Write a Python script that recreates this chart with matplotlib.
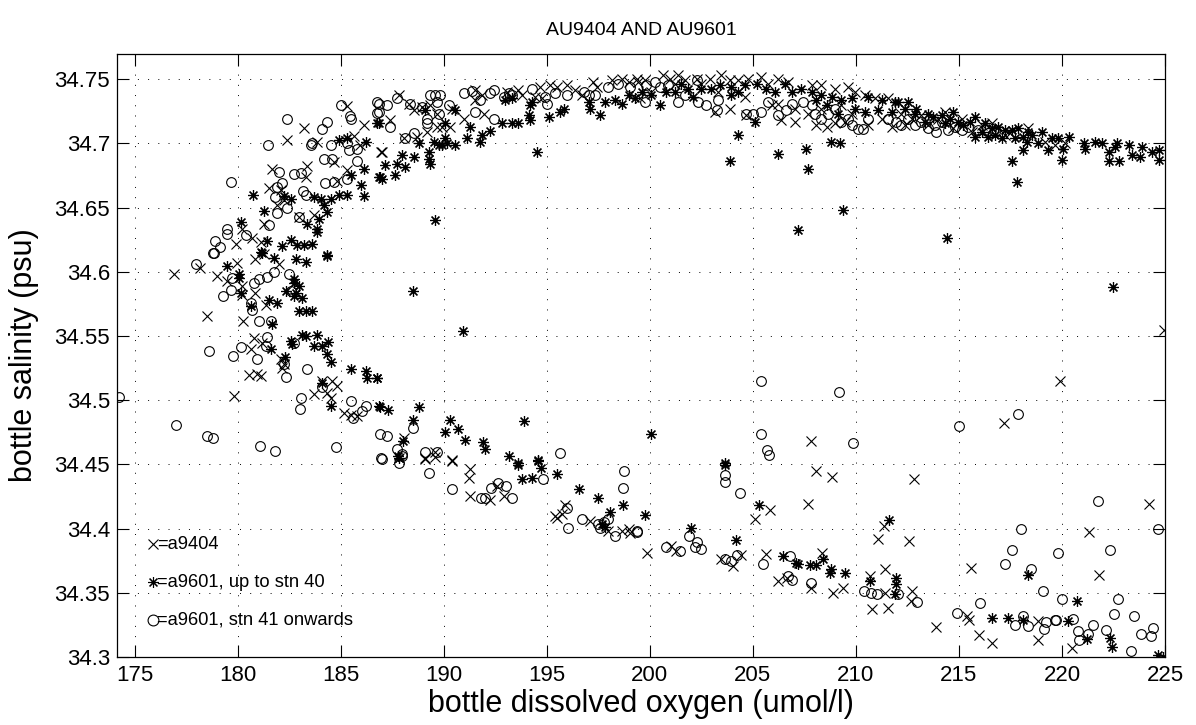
import matplotlib
matplotlib.use("Agg")
import matplotlib.pyplot as plt
from matplotlib.ticker import FixedLocator

plt.rcParams['font.family'] = ['Liberation Sans', 'DejaVu Sans']

# ---------------- data (oxygen umol/l, salinity psu) ----------------
a9404_ox = [185.29, 183.22, 186.13, 185.65, 182.41, 183.87, 185.94, 186.94, 184.68, 185.33,
            183.38, 183.30, 181.68, 184.84, 181.52, 182.09, 182.25, 181.93, 182.98, 183.71,
            181.28, 180.23, 180.71, 181.12, 179.90,
            187.42, 187.82, 188.30, 188.55, 188.95, 189.35, 189.68, 189.19, 189.68, 189.92,
            190.32, 190.40, 191.53, 191.86, 191.53, 191.94, 190.97, 193.63, 193.07, 193.80,
            194.68, 194.44, 194.77, 195.17, 195.49, 195.98, 196.38, 196.70, 197.27, 197.43,
            198.16, 198.64, 198.97, 199.37, 187.01, 188.06, 188.71,
            199.43, 199.76, 200.65, 200.97, 201.38, 201.70, 202.27, 202.91, 203.48, 203.88,
            204.29, 204.77, 205.42, 205.74, 206.23, 206.72, 207.85, 208.33, 208.98, 209.63,
            209.95, 210.44, 210.92, 211.57,
            203.16, 203.88, 204.69, 206.23, 206.39, 207.04, 208.09, 208.58, 208.98, 209.47,
            210.60, 211.73, 199.51,
            200.08, 201.21, 202.51, 203.32, 204.61, 205.91, 207.04, 207.69, 208.33, 209.30,
            209.79, 211.25,
            212.21, 212.70, 213.18, 213.99, 215.13, 216.10, 217.24, 218.37, 219.18, 219.67, 220.15,
            212.37, 213.51, 214.32, 214.72, 215.62, 216.59, 217.48,
            178.20, 176.91, 179.98, 179.01, 179.50, 180.23, 180.23, 180.87, 180.87, 181.28,
            182.00, 181.36, 178.50, 180.27, 180.79, 181.20, 180.63, 182.09, 180.55, 180.95,
            181.12, 182.17, 182.25, 179.82, 184.11, 184.60, 183.71, 184.32, 184.84, 184.51,
            185.16, 185.49, 185.81,
            188.06, 187.82, 189.11, 190.40, 189.60,
            207.82, 224.95, 219.91, 217.20,
            189.11, 189.60, 190.40, 191.29, 191.24, 191.29, 192.23, 192.91, 192.58, 195.90,
            195.49, 195.74, 195.41, 197.11, 197.99, 198.64, 198.97, 199.05,
            199.89, 201.05, 201.29, 203.48, 204.05, 204.45, 205.83, 205.10, 208.09, 208.82,
            207.69, 205.62, 206.23, 206.64, 208.38, 207.82, 208.90, 209.39, 211.08, 211.38,
            211.41, 210.68, 210.79, 211.57, 211.41,
            212.81, 212.59, 212.70, 212.67, 213.88, 215.37, 215.49, 215.58, 215.97, 216.62,
            218.82, 218.82, 220.51, 221.29, 221.82, 224.24]
a9404_sal = [34.729, 34.7116, 34.714, 34.706, 34.703, 34.701, 34.6986, 34.693, 34.6856, 34.679,
             34.6825, 34.674, 34.680, 34.671, 34.665, 34.6635, 34.6557, 34.6518, 34.643, 34.644,
             34.6375, 34.6335, 34.626, 34.623, 34.622,
             34.718, 34.7375, 34.731, 34.726, 34.7285, 34.730, 34.723, 34.709, 34.713, 34.713,
             34.713, 34.727, 34.7415, 34.7375, 34.7335, 34.723, 34.7193, 34.7414, 34.740, 34.7375,
             34.744, 34.736, 34.735, 34.7453, 34.744, 34.7453, 34.7414, 34.7375, 34.748, 34.744,
             34.749, 34.750, 34.748, 34.750, 34.6934, 34.7038, 34.705,
             34.748, 34.749, 34.753, 34.7505, 34.753, 34.749, 34.7505, 34.7505, 34.753, 34.749,
             34.749, 34.7505, 34.7518, 34.7466, 34.7505, 34.748, 34.7453, 34.7453, 34.7427, 34.744,
             34.740, 34.7375, 34.735, 34.735,
             34.7245, 34.7271, 34.722, 34.731, 34.718, 34.7167, 34.7141, 34.7129, 34.7155, 34.7167,
             34.7141, 34.7129, 34.735,
             34.7401, 34.7466, 34.7466, 34.7401, 34.7362, 34.7297, 34.7271, 34.7232, 34.7271, 34.7297,
             34.7232, 34.7193,
             34.7232, 34.7193, 34.722, 34.7193, 34.7193, 34.7141, 34.7064, 34.7116, 34.7012, 34.6986, 34.700,
             34.7141, 34.7141, 34.7245, 34.7116, 34.709, 34.7155, 34.7077,
             34.603, 34.598, 34.6065, 34.597, 34.5927, 34.5888, 34.5823, 34.5836, 34.6096, 34.6135,
             34.6057, 34.5745, 34.5654, 34.5615, 34.5486, 34.5446, 34.5395, 34.5317, 34.520, 34.5205,
             34.5192, 34.5252, 34.528, 34.5031, 34.5148, 34.5148, 34.505, 34.5055, 34.5109, 34.5018,
             34.4901, 34.4888, 34.4875,
             34.4706, 34.455, 34.455, 34.4537, 34.4595,
             34.4686, 34.555, 34.5153, 34.4823,
             34.4539, 34.456, 34.4526, 34.4461, 34.4396, 34.4253, 34.422, 34.4253, 34.4331, 34.4184,
             34.4084, 34.411, 34.4097, 34.4058, 34.3981, 34.3981, 34.3994, 34.3968,
             34.3812, 34.3864, 34.3825, 34.376, 34.3708, 34.3791, 34.4144, 34.4071, 34.4448, 34.4404,
             34.4193, 34.3799, 34.3591, 34.3617, 34.3812, 34.3539, 34.350, 34.3539, 34.3921, 34.402,
             34.3682, 34.363, 34.3375, 34.3383, 34.350,
             34.4388, 34.3903, 34.3513, 34.3435, 34.3232, 34.3323, 34.3292, 34.3695, 34.3175, 34.311,
             34.3284, 34.3136, 34.3071, 34.3973, 34.3638, 34.4193]

a9601a_ox = [186.78, 184.92, 185.33, 186.21, 186.13, 186.86, 185.49, 180.76, 182.25, 182.57,
             183.71, 184.03, 184.51, 184.92, 185.32, 186.00, 186.13, 184.19, 184.35, 183.95,
             183.87, 183.83, 183.38, 183.22, 183.63, 182.90, 182.17, 182.57, 181.28, 181.12,
             180.15, 181.44, 184.35,
             186.85, 189.11, 190.08, 190.57, 191.29, 192.99, 193.31, 194.20, 194.28, 197.03,
             197.11, 197.59, 197.84, 198.32, 198.64, 198.97, 199.29, 195.09, 195.65, 195.82,
             194.20, 194.12, 193.63, 193.31, 192.83, 192.26, 191.86, 191.78, 191.13, 190.57,
             190.16, 189.92, 189.76, 189.52, 189.27, 189.27, 189.35, 188.55, 188.14, 187.98,
             187.74, 187.17, 186.93, 187.01, 187.66, 188.79, 190.08, 189.60, 194.52,
             200.49, 203.96, 203.96, 205.10, 204.29, 203.88, 206.20, 207.60, 207.69, 208.79,
             209.22, 209.39, 207.20, 205.18, 206.55, 207.36, 207.85, 208.33, 208.82, 209.30,
             209.79, 210.60, 211.25, 211.89, 202.51, 201.21, 201.86,
             199.60, 200.08, 200.81, 201.54, 202.10, 202.99, 203.40, 204.29, 204.61, 205.66,
             206.07, 206.88, 208.09, 208.58, 209.14, 209.95, 210.44, 211.08, 211.73,
             212.05, 212.54, 212.94, 213.51, 213.75, 214.16, 214.56, 214.97, 215.78, 216.26,
             215.78, 216.43, 216.91, 217.07, 217.56, 217.88, 218.37, 218.13, 218.13, 217.59,
             217.80, 219.02, 219.51, 219.83, 220.32, 220.07, 219.99, 221.05, 221.13, 221.61,
             221.94, 222.26, 222.58, 222.67, 223.23, 223.40, 223.80, 223.88, 224.37, 224.69,
             224.69, 214.40, 222.26, 222.75, 219.34, 218.86,
             212.37, 212.86, 213.35, 214.32, 214.72, 215.21, 215.53, 216.10, 216.59, 216.75,
             217.24, 217.72, 218.29, 218.53,
             179.50, 180.06, 180.06, 180.15, 181.20, 181.76, 182.82, 183.30, 184.35, 182.73,
             182.73, 182.98, 182.33, 182.73, 183.14, 182.82, 180.63, 181.52, 181.93, 182.98,
             183.30, 183.62, 181.68, 181.60, 182.57, 182.65, 183.14, 183.30, 183.87, 183.71,
             184.11, 184.38, 184.35, 184.51, 182.30, 185.49, 186.21, 186.26, 186.75, 184.11,
             184.55, 186.86,
             188.51, 190.92, 186.77, 186.93, 187.30, 188.82, 188.51, 190.32, 190.08, 190.69,
             191.02, 191.89, 192.02, 193.18, 193.63, 194.60, 193.91, 188.01, 187.79,
             200.08, 203.64, 222.50,
             187.82, 193.63, 193.80, 194.28, 194.60, 194.72, 195.49, 196.58, 197.51, 198.08,
             198.68, 197.67, 197.84,
             203.67, 199.79, 201.99, 204.19, 205.29, 206.47, 207.12, 207.20, 207.77, 208.09,
             208.41, 208.74, 208.79, 209.47, 211.60, 210.68, 211.97, 211.97, 211.89,
             216.59, 217.40, 218.13, 218.34, 220.28, 220.72, 221.21, 222.34, 222.42, 224.64, 224.90]
a9601a_sal = [34.7155, 34.7025, 34.704, 34.701, 34.680, 34.674, 34.675, 34.660, 34.659, 34.657,
              34.658, 34.657, 34.657, 34.6596, 34.6596, 34.6674, 34.659, 34.652, 34.6466, 34.6414,
              34.6336, 34.631, 34.6375, 34.6212, 34.6217, 34.6206, 34.620, 34.6245, 34.647, 34.6154,
              34.639, 34.6238, 34.613,
              34.7155, 34.726, 34.7155, 34.726, 34.713, 34.7336, 34.735, 34.7297, 34.7323, 34.732,
              34.727, 34.722, 34.732, 34.7336, 34.731, 34.7375, 34.735, 34.7206, 34.7245, 34.727,
              34.718, 34.722, 34.7155, 34.7155, 34.7155, 34.710, 34.7064, 34.701, 34.7038, 34.6986,
              34.700, 34.6986, 34.6986, 34.701, 34.6934, 34.688, 34.6843, 34.6895, 34.6817, 34.6908,
              34.684, 34.683, 34.674, 34.6726, 34.675, 34.700, 34.7038, 34.640, 34.693,
              34.7297, 34.7375, 34.744, 34.7167, 34.7064, 34.6864, 34.692, 34.696, 34.680, 34.7012,
              34.700, 34.648, 34.6323, 34.7466, 34.7466, 34.7427, 34.740, 34.7375, 34.7362, 34.7336,
              34.735, 34.7362, 34.7336, 34.7323, 34.7427, 34.740, 34.7427,
              34.7401, 34.7375, 34.7401, 34.7466, 34.7362, 34.7427, 34.7453, 34.7401, 34.7453, 34.7427,
              34.7401, 34.7401, 34.7336, 34.7297, 34.7232, 34.7271, 34.7245, 34.7258, 34.7245,
              34.7323, 34.7323, 34.7271, 34.7232, 34.7206, 34.722, 34.7193, 34.7167, 34.7206, 34.7155,
              34.7051, 34.7051, 34.7129, 34.7038, 34.7103, 34.7116, 34.709, 34.7051, 34.6947, 34.6861,
              34.670, 34.709, 34.7038, 34.7038, 34.7051, 34.696, 34.6869, 34.6999, 34.696, 34.7012,
              34.700, 34.6934, 34.6973, 34.700, 34.6986, 34.6908, 34.6895, 34.6973, 34.6934, 34.6947,
              34.6869, 34.6264, 34.6861, 34.6861, 34.6947, 34.700,
              34.7271, 34.7232, 34.7167, 34.7155, 34.7245, 34.7141, 34.7167, 34.709, 34.7116, 34.7064,
              34.7103, 34.7038, 34.7012, 34.7064,
              34.6044, 34.598, 34.5953, 34.5836, 34.6148, 34.6109, 34.6096, 34.6075, 34.612, 34.594,
              34.5914, 34.5888, 34.585, 34.581, 34.5797, 34.5836, 34.5732, 34.5784, 34.5758, 34.5693,
              34.5693, 34.5693, 34.559, 34.540, 34.546, 34.5434, 34.5504, 34.550, 34.5504, 34.542,
              34.542, 34.545, 34.5356, 34.530, 34.5338, 34.524, 34.5226, 34.5174, 34.5174, 34.5135,
              34.4958, 34.4953,
              34.585, 34.5538, 34.5174, 34.4948, 34.4927, 34.4948, 34.4849, 34.4844, 34.475, 34.4777,
              34.4688, 34.4673, 34.4616, 34.4564, 34.4512, 34.4538, 34.4836, 34.468, 34.4564,
              34.474, 34.4512, 34.5883,
              34.4552, 34.4492, 34.4383, 34.4396, 34.4526, 34.4474, 34.4422, 34.431, 34.4235, 34.4128,
              34.4183, 34.4032, 34.4014,
              34.4492, 34.4103, 34.4006, 34.3908, 34.418, 34.3786, 34.3734, 34.3721, 34.3713, 34.3713,
              34.3765, 34.3656, 34.3682, 34.3656, 34.4066, 34.3591, 34.3617, 34.3565, 34.3487,
              34.330, 34.330, 34.3292, 34.3635, 34.3279, 34.3435, 34.3142, 34.315, 34.3077, 34.3014, 34.300]

a9601b_ox = [185.00, 186.78, 186.78, 182.41, 184.32, 184.11, 185.44, 185.49, 181.47, 183.54,
             183.62, 184.51, 185.33, 185.40, 185.81, 184.19, 184.60, 185.78, 183.06, 182.73,
             182.01, 179.69, 184.22, 184.68, 185.29, 182.17, 181.93, 181.80, 182.41, 183.17,
             183.32, 182.98, 181.93, 181.52, 179.50, 179.50, 180.39, 178.90, 179.17, 178.85,
             186.85, 186.85, 187.25, 187.42, 187.74, 188.38, 188.95, 189.35, 189.60, 189.84,
             189.68, 189.76, 189.19, 189.19, 190.24, 190.97, 191.37, 191.78, 191.53, 192.42,
             192.26, 192.42, 193.15, 193.31, 192.91, 194.28, 194.93, 195.00, 195.41, 195.98,
             196.79, 197.03, 197.35, 197.99, 198.48, 199.05, 188.14, 188.55,
             199.84, 199.76, 200.24, 200.49, 200.89, 201.38, 202.27, 202.35, 202.75, 203.24,
             204.69, 205.02, 205.42, 206.23, 206.63, 207.44, 207.85, 208.98, 209.30, 210.11,
             210.36, 208.33, 209.63,
             201.70, 203.32, 205.74, 206.88, 208.01, 208.66, 209.79, 210.60, 211.57,
             211.97, 212.21, 212.54, 213.18, 213.91, 214.48, 214.81, 213.83, 215.45, 215.94,
             212.86, 213.51, 214.16, 215.13, 216.26, 216.75,
             178.82, 177.99, 179.74, 179.66, 179.30, 180.79, 181.04, 181.41, 181.77, 182.49,
             182.60, 180.63, 180.71, 181.04, 181.60, 181.41, 181.36, 180.19, 179.79, 180.92,
             178.61, 182.73, 182.25, 182.33, 183.38, 184.11, 183.09, 183.03, 185.52, 185.58,
             186.05, 186.21, 176.99, 178.50, 178.80, 181.08, 181.80, 184.80, 186.91, 186.94,
             174.24,
             187.25, 188.51, 187.74, 187.98, 189.11, 189.68, 195.65,
             205.39, 209.19, 205.39, 205.70, 205.78, 209.87,
             217.88, 215.02,
             187.01, 187.82, 188.00, 189.27, 194.81, 198.77, 198.69, 190.40, 191.83, 192.02,
             192.31, 192.63, 193.02, 193.31, 195.98, 196.01, 196.70, 197.51, 197.59, 197.80,
             197.99, 198.29, 199.37,
             203.67, 203.67, 204.39, 199.40, 201.89, 202.27, 202.18, 202.48, 200.81, 201.46,
             204.21, 203.63, 203.96, 205.50, 206.80, 206.72, 206.88, 207.82, 210.40, 210.73,
             211.05,
             212.05, 212.99, 214.89, 216.02, 217.24, 217.59, 218.01, 218.50, 217.72, 218.13,
             218.34, 219.10, 219.13, 219.21, 219.64, 219.72, 219.80, 220.02, 220.53, 220.80,
             220.83, 221.26, 221.53, 221.73, 222.34, 222.13, 222.54, 222.71, 223.33, 223.52,
             223.83, 224.32, 224.40, 224.64]
a9601b_sal = [34.730, 34.732, 34.724, 34.719, 34.717, 34.711, 34.721, 34.719, 34.699, 34.6986,
              34.700, 34.699, 34.700, 34.6947, 34.6955, 34.6876, 34.6876, 34.686, 34.677, 34.6765,
              34.678, 34.670, 34.669, 34.670, 34.6726, 34.669, 34.666, 34.658, 34.650, 34.663,
              34.660, 34.643, 34.646, 34.6367, 34.6336, 34.6297, 34.629, 34.6238, 34.6193, 34.615,
              34.731, 34.7245, 34.730, 34.713, 34.735, 34.731, 34.7285, 34.7375, 34.7375, 34.7375,
              34.732, 34.7225, 34.7193, 34.7155, 34.730, 34.739, 34.741, 34.7336, 34.7245, 34.7415,
              34.739, 34.7193, 34.739, 34.7375, 34.736, 34.7427, 34.7362, 34.731, 34.739, 34.7375,
              34.740, 34.7375, 34.7375, 34.744, 34.7466, 34.744, 34.7038, 34.7077,
              34.7453, 34.7323, 34.748, 34.744, 34.7453, 34.7323, 34.749, 34.7323, 34.7297, 34.7258,
              34.7232, 34.7232, 34.7245, 34.722, 34.7258, 34.7323, 34.7297, 34.7271, 34.7167, 34.7115,
              34.7115, 34.7193, 34.7193,
              34.7375, 34.7336, 34.7323, 34.731, 34.7232, 34.7232, 34.7141, 34.7193, 34.7193,
              34.7167, 34.7141, 34.7193, 34.7167, 34.709, 34.7103, 34.7129, 34.7141, 34.7129, 34.7103,
              34.7141, 34.7116, 34.7167, 34.7103, 34.7103, 34.709,
              34.6148, 34.6057, 34.5953, 34.586, 34.581, 34.5914, 34.5945, 34.596, 34.5997, 34.598,
              34.585, 34.5758, 34.5706, 34.5615, 34.5615, 34.549, 34.542, 34.5416, 34.5348, 34.5317,
              34.5382, 34.5442, 34.528, 34.518, 34.5244, 34.5104, 34.502, 34.4932, 34.4992, 34.4862,
              34.4919, 34.4953, 34.4803, 34.472, 34.4704, 34.4642, 34.4603, 34.4634, 34.4738, 34.455,
              34.5026,
              34.4719, 34.4784, 34.4616, 34.4584, 34.4595, 34.4595, 34.459,
              34.5153, 34.5062, 34.4735, 34.461, 34.4577, 34.4668,
              34.489, 34.4797,
              34.4539, 34.4513, 34.4565, 34.4435, 34.4383, 34.4448, 34.4313, 34.4305, 34.424, 34.424,
              34.4318, 34.4357, 34.4331, 34.424, 34.4162, 34.4006, 34.4071, 34.4032, 34.4006, 34.4051,
              34.4071, 34.3942, 34.3981,
              34.4414, 34.4362, 34.4274, 34.3973, 34.3942, 34.3895, 34.3858, 34.3843, 34.3856, 34.3825,
              34.3791, 34.3765, 34.3747, 34.3721, 34.3786, 34.363, 34.3599, 34.3578, 34.3513, 34.350,
              34.3487,
              34.3487, 34.3427, 34.3344, 34.3422, 34.3726, 34.3833, 34.3994, 34.3682, 34.3253, 34.3318,
              34.324, 34.3513, 34.322, 34.3274, 34.3292, 34.3287, 34.3812, 34.3453, 34.3297, 34.3201,
              34.3136, 34.3183, 34.3253, 34.4214, 34.3833, 34.3209, 34.3336, 34.3453, 34.3045, 34.3323,
              34.3183, 34.3162, 34.3227, 34.3994]

x_ticks = [175, 180, 185, 190, 195, 200, 205, 210, 215, 220, 225]
y_ticks = [34.3, 34.35, 34.4, 34.45, 34.5, 34.55, 34.6, 34.65, 34.7, 34.75]
y_ticklabels = ['34.3', '34.35', '34.4', '34.45', '34.5', '34.55', '34.6', '34.65', '34.7', '34.75']
legend_labels = ['=a9404', '=a9601, up to stn 40', '=a9601, stn 41 onwards']
legend_y = [34.3877, 34.3583, 34.3287]

title_text = 'AU9404 AND AU9601'
xlabel_text = 'bottle dissolved oxygen (umol/l)'
ylabel_text = 'bottle salinity (psu)'

# ---------------- figure ----------------
fig = plt.figure(figsize=(11.96, 7.25), dpi=100)
ax = fig.add_axes([117 / 1196, 1 - 657 / 725, (1165 - 117) / 1196, (657 - 54) / 725])

star = (8, 2, 0)
mkw = dict(linestyle='none', color='black', markerfacecolor='none', markeredgecolor='black',
           clip_on=True)
ax.plot(a9404_ox, a9404_sal, marker='x', markersize=7.8, markeredgewidth=0.8, **mkw)
ax.plot(a9601a_ox, a9601a_sal, marker=star, markersize=7.8, markeredgewidth=0.85, **mkw)
ax.plot(a9601b_ox, a9601b_sal, marker='o', markersize=7, markeredgewidth=0.8, **mkw)

ax.set_xlim(174.15, 225.0)
ax.set_ylim(34.3, 34.7696)
ax.xaxis.set_major_locator(FixedLocator(x_ticks))
ax.yaxis.set_major_locator(FixedLocator(y_ticks))
ax.set_xticklabels([str(v) for v in x_ticks])
ax.set_yticklabels(y_ticklabels)
ax.tick_params(axis='both', which='major', direction='in', length=8.5, width=0.8,
               top=True, right=True, labelsize=16, colors='black')
ax.tick_params(axis='x', pad=6)
ax.tick_params(axis='y', pad=5)
for s in ax.spines.values():
    s.set_linewidth(0.9)
    s.set_color('black')
ax.grid(True, color='black', linestyle=(0, (1, 9.5)), linewidth=0.7)

# legend-like annotations
legend_markers = ['x', star, 'o']
for mk, lab, yy in zip(legend_markers, legend_labels, legend_y):
    ax.plot([175.9], [yy], marker=mk, markersize=7.8, markeredgewidth=0.8, **mkw)
    ax.text(176.1, yy, lab, fontsize=13.2, va='center', ha='left', color='black')

ax.set_title(title_text, fontsize=14, pad=14)
ax.set_xlabel(xlabel_text, fontsize=22, labelpad=2)
ax.set_ylabel(ylabel_text, fontsize=22, labelpad=11)

fig.savefig('out.png', dpi=100)
